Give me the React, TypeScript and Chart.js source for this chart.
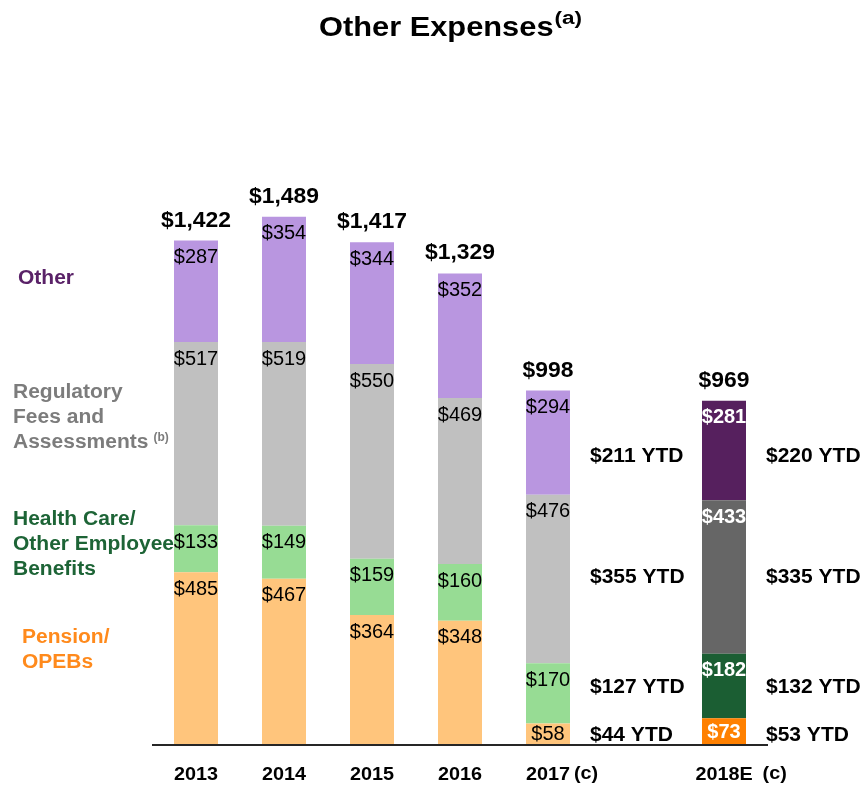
import React, { useEffect, useRef } from "react";
import { Chart, registerables } from "chart.js";

Chart.register(...registerables);

// ---------- data ----------
const CATEGORIES = ["2013", "2014", "2015", "2016", "2017", "", "2018E"];
const FOOTNOTES = ["", "", "", "", "(c)", "", "(c)"];
const PENSION = [485, 467, 364, 348, 58, null, 73];
const HEALTH = [133, 149, 159, 160, 170, null, 182];
const REGULATORY = [517, 519, 550, 469, 476, null, 433];
const OTHER = [287, 354, 344, 352, 294, null, 281];
const TOTALS = [1422, 1489, 1417, 1329, 998, null, 969];
const YTD_INDEX = [4, 6];
const YTD_2017 = [44, 127, 355, 211];
const YTD_2018E = [53, 132, 335, 220];
const SERIES_NAMES = ["Pension/ OPEBs", "Health Care/ Other Employee Benefits", "Regulatory Fees and Assessments", "Other"];
const TITLE = "Other Expenses";
const TITLE_NOTE = "(a)";
const LEGEND_LINES = [
  ["Pension/", "OPEBs"],
  ["Health Care/", "Other Employee", "Benefits"],
  ["Regulatory", "Fees and", "Assessments"],
  ["Other"],
];
const LEGEND_NOTES = ["", "", "(b)", ""];

// ---------- styles ----------
const FONT = '"Liberation Sans", Arial, sans-serif';
const LIGHT = ["#ffc57c", "#97dc94", "#c0c0c0", "#b996e0"];
const DARK = ["#ff8000", "#1b5e33", "#666666", "#56205e"];
const LEGEND_COLORS = ["#ff8a1c", "#1d6436", "#7c7c7c", "#5a2268"];
const LEGEND_POS = [
  { x: 22, y: 637 },
  { x: 13, y: 519 },
  { x: 13, y: 392 },
  { x: 18, y: 278 },
];
const LINE_GAP = 25;
const YTD_ROW_SHIFT = [4, 1, 0, 6];

function txt(ctx, s, x, y, size, bold, color, align = "center", sx = 1) {
  ctx.save();
  ctx.font = `${bold ? "bold " : ""}${size}px ${FONT}`;
  ctx.fillStyle = color;
  ctx.textAlign = align;
  ctx.textBaseline = "middle";
  ctx.translate(x, y);
  ctx.scale(sx, 1);
  ctx.fillText(s, 0, 0);
  ctx.restore();
}
function width(ctx, s, size, bold, sx = 1) {
  ctx.save();
  ctx.font = `${bold ? "bold " : ""}${size}px ${FONT}`;
  const w = ctx.measureText(s).width * sx;
  ctx.restore();
  return w;
}

const labelsPlugin = {
  id: "labelsPlugin",
  afterDatasetsDraw(chart) {
    const { ctx, chartArea } = chart;
    const xs = chart.scales.x;
    const ys = chart.scales.y;
    const nData = chart.data.datasets.length;
    // baseline
    const y0 = ys.getPixelForValue(0);
    ctx.save();
    ctx.strokeStyle = "#262626";
    ctx.lineWidth = 2;
    ctx.beginPath();
    ctx.moveTo(chartArea.left, y0 + 1);
    ctx.lineTo(chartArea.right, y0 + 1);
    ctx.stroke();
    ctx.restore();

    // segment labels
    chart.data.datasets.forEach((ds, d) => {
      const meta = chart.getDatasetMeta(d);
      ds.data.forEach((v, i) => {
        if (v == null) return;
        const el = meta.data[i];
        const top = el.y;
        const base = el.base;
        const y = Math.min(top + 17, (top + base) / 2 + 1);
        const dark = CATEGORIES[i] === "2018E";
        txt(ctx, `$${v}`, el.x, y, 20, dark, dark ? "#ffffff" : "#000000");
      });
    });

    // totals
    const topMeta = chart.getDatasetMeta(nData - 1);
    TOTALS.forEach((t, i) => {
      if (t == null) return;
      const el = topMeta.data[i];
      txt(ctx, `$${t.toLocaleString("en-US")}`, el.x, el.y - 20, 22, true, "#000000", "center", 1.04);
    });

    // YTD labels
    const rowIdx = YTD_INDEX[YTD_INDEX.length - 1];
    [YTD_2017, YTD_2018E].forEach((arr, k) => {
      const idx = YTD_INDEX[k];
      const bar = chart.getDatasetMeta(0).data[idx];
      const x = bar.x + bar.width / 2 + 20;
      arr.forEach((v, d) => {
        const el = chart.getDatasetMeta(d).data[rowIdx];
        const y = (el.y + el.base) / 2 + YTD_ROW_SHIFT[d];
        txt(ctx, `$${v} YTD`, x, y, 21, true, "#000000", "left");
      });
    });

    // category labels
    CATEGORIES.forEach((c, i) => {
      if (!c) return;
      const x = xs.getPixelForValue(i);
      txt(ctx, c, x, 775, 18.5, true, "#000000", "center", 1.07);
      if (FOOTNOTES[i]) {
        const w = width(ctx, c, 18.5, true, 1.07);
        txt(ctx, FOOTNOTES[i], x + w / 2 + (c.length > 4 ? 10 : 4), 774, 18.5, true, "#000000", "left", 1.07);
      }
    });
  },
  afterDraw(chart) {
    const { ctx } = chart;
    // title
    const tw = width(ctx, TITLE, 28, true, 1.1);
    const nw = width(ctx, TITLE_NOTE, 18, true, 1.25);
    const cx = 450;
    const left = cx - (tw + nw) / 2;
    txt(ctx, TITLE, left, 28, 28, true, "#000000", "left", 1.1);
    txt(ctx, TITLE_NOTE, left + tw + 1, 19, 18, true, "#000000", "left", 1.25);

    // left legend
    LEGEND_LINES.forEach((lines, s) => {
      const p = LEGEND_POS[s];
      lines.forEach((ln, j) => {
        txt(ctx, ln, p.x, p.y + j * LINE_GAP, 20, true, LEGEND_COLORS[s], "left", 1.05);
        if (j === lines.length - 1 && LEGEND_NOTES[s]) {
          const w = width(ctx, ln, 20, true, 1.05);
          txt(ctx, LEGEND_NOTES[s], p.x + w + 5, p.y + j * LINE_GAP - 4, 12, true, LEGEND_COLORS[s], "left");
        }
      });
    });
  },
};

export default function App() {
  const ref = useRef(null);
  useEffect(() => {
    const series = [PENSION, HEALTH, REGULATORY, OTHER];
    const chart = new Chart(ref.current, {
      type: "bar",
      data: {
        labels: CATEGORIES,
        datasets: series.map((data, s) => ({
          label: SERIES_NAMES[s],
          data,
          backgroundColor: CATEGORIES.map((c) => (c === "2018E" ? DARK[s] : LIGHT[s])),
          borderWidth: 0,
          barPercentage: 0.5,
          categoryPercentage: 1,
        })),
      },
      options: {
        responsive: false,
        animation: false,
        layout: { padding: { left: 152, right: 93, top: 142, bottom: 41 } },
        scales: {
          x: { display: false, stacked: true },
          y: { display: false, stacked: true, min: 0, max: 1700 },
        },
        plugins: {
          legend: { display: false },
          tooltip: { enabled: false },
          title: { display: false },
        },
      },
      plugins: [labelsPlugin],
    });
    return () => chart.destroy();
  }, []);
  return (
    <div style={{ position: "fixed", left: 0, top: 0, width: 861, height: 785, background: "#ffffff" }}>
      <canvas ref={ref} width={861} height={785} style={{ display: "block" }} />
    </div>
  );
}
